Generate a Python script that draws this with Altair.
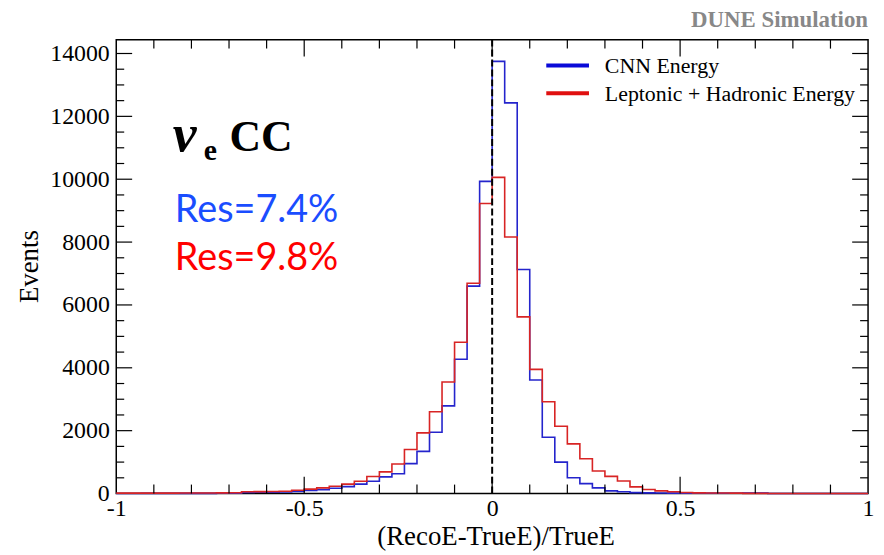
import altair as alt
import pandas as pd

# ---------------- data ----------------
series_names = ["CNN Energy", "Leptonic + Hadronic Energy"]
edges = [round(-1 + i / 30, 6) for i in range(61)]  # 60 bins of width 1/30 on [-1, 1]

cnn = [3, 3, 4, 4, 5, 5, 6, 6, 8, 10,
       35, 40, 45, 50, 65,
       95, 125, 170, 220, 300,
       390, 530, 630, 950, 1340,
       1950, 2790, 4270, 6600, 9930,
       13750, 12430, 7130, 3610, 1790,
       1000, 500, 316, 180, 85,
       55, 30, 22, 15, 12,
       10, 10, 9, 9, 8,
       15, 15, 0, 0, 0,
       0, 0, 0, 0, 0]
lh = [12, 12, 12, 14, 14, 15, 16, 18, 20, 25,
      55, 60, 65, 75, 105,
      140, 180, 230, 300, 390,
      540, 690, 940, 1400, 1930,
      2600, 3550, 4815, 6690, 9230,
      10060, 8160, 5620, 3950, 2920,
      2140, 1580, 1105, 717, 547,
      400, 212, 127, 85, 55,
      32, 20, 18, 15, 14,
      6, 5, 3, 2, 0,
      0, 0, 0, 0, 0]

x_ticks_major = [-0.5, 0, 0.5]
x_ticks_minor = [-0.9, -0.8, -0.7, -0.6, -0.4, -0.3, -0.2, -0.1,
                 0.1, 0.2, 0.3, 0.4, 0.6, 0.7, 0.8, 0.9]
x_labels = [-1, -0.5, 0, 0.5, 1]
y_ticks_major = [2000, 4000, 6000, 8000, 10000, 12000, 14000]
y_ticks_minor = [500, 1000, 1500, 2500, 3000, 3500, 4500, 5000, 5500, 6500, 7000, 7500,
                 8500, 9000, 9500, 10500, 11000, 11500, 12500, 13000, 13500]
y_labels = [0, 2000, 4000, 6000, 8000, 10000, 12000, 14000]

colors = ["#2424cc", "#d82424"]
legend_colors = ["#0a0ad8", "#e01010"]
W, H = 757, 457
SERIF = "Liberation Serif"

rows = []
for name, vals in zip(series_names, (cnn, lh)):
    for i, v in enumerate(vals):
        rows.append({"x": edges[i], "y": v, "s": name})
    rows.append({"x": edges[-1], "y": vals[-1], "s": name})
df = pd.DataFrame(rows)

x_scale = alt.Scale(domain=[-1, 1], nice=False, zero=False)
y_scale = alt.Scale(domain=[0, 14440], nice=False)

x_axis = alt.Axis(values=x_labels, ticks=False, domain=False, grid=False,
                  labelPadding=3, labelFlush=False,
                  labelExpr="datum.value < 0 ? '-' + format(-datum.value, '~g') : format(datum.value, '~g')",
                  title="(RecoE-TrueE)/TrueE", titleX=382, titleY=51,
                  titleBaseline="alphabetic", titleAlign="center")
y_axis = alt.Axis(values=y_labels, ticks=False, domain=False, grid=False,
                  format="d", labelPadding=7, labelFlush=False,
                  title="Events", titleX=-79, titleY=228, titleAngle=270,
                  titleBaseline="alphabetic", titleAlign="center")

lines = alt.Chart(df).mark_line(interpolate="step-after", strokeWidth=1.6).encode(
    x=alt.X("x:Q", scale=x_scale, axis=x_axis),
    y=alt.Y("y:Q", scale=y_scale, axis=y_axis),
    color=alt.Color("s:N", scale=alt.Scale(domain=series_names, range=colors), legend=None),
)


def xtick_layer(vals, length, top):
    base = alt.Chart(pd.DataFrame({"t": vals})).mark_rule(color="black", strokeWidth=1.2)
    if top:
        return base.encode(x=alt.X("t:Q", scale=x_scale, axis=x_axis),
                           y=alt.value(0), y2=alt.value(length))
    return base.encode(x=alt.X("t:Q", scale=x_scale, axis=x_axis),
                       y=alt.value(H), y2=alt.value(H - length))


def ytick_layer(vals, length, right):
    base = alt.Chart(pd.DataFrame({"t": vals})).mark_rule(color="black", strokeWidth=1.2)
    if right:
        return base.encode(y=alt.Y("t:Q", scale=y_scale, axis=y_axis),
                           x=alt.value(W), x2=alt.value(W - length))
    return base.encode(y=alt.Y("t:Q", scale=y_scale, axis=y_axis),
                       x=alt.value(0), x2=alt.value(length))


ticks = [
    xtick_layer(x_ticks_major, 17, False), xtick_layer(x_ticks_minor, 9, False),
    xtick_layer(x_ticks_major, 17, True), xtick_layer(x_ticks_minor, 9, True),
    ytick_layer(y_ticks_major, 16, False), ytick_layer(y_ticks_minor, 8, False),
    ytick_layer(y_ticks_major, 16, True), ytick_layer(y_ticks_minor, 8, True),
]

zero_line = alt.Chart(pd.DataFrame({"x": [0]})).mark_rule(
    color="black", strokeWidth=2, strokeDash=[7, 3]).encode(
    x=alt.X("x:Q", scale=x_scale, axis=x_axis))


def label(text, x, y, **kw):
    return alt.Chart(pd.DataFrame({"t": [text]})).mark_text(**kw).encode(
        x=alt.value(x), y=alt.value(y), text="t:N")


# legend (drawn as key lines + labels)
legend_layers = []
for k, (name, col) in enumerate(zip(series_names, legend_colors)):
    yy = 26 + 28 * k
    legend_layers.append(
        alt.Chart(pd.DataFrame({"s": [name]})).mark_rule(color=col, strokeWidth=4).encode(
            x=alt.value(433), x2=alt.value(476), y=alt.value(yy)))
    legend_layers.append(
        label(name, 492, yy + 1, font=SERIF, fontSize=22, color="black",
              align="left", baseline="middle"))

texts = [
    label("DUNE Simulation", 757, -13, font=SERIF, fontSize=23, fontWeight="bold",
          color="#888888", align="right", baseline="alphabetic"),
    label("ν", 57, 112, font=SERIF, fontSize=54, fontWeight="bold", fontStyle="italic",
          color="black", align="left", baseline="alphabetic"),
    label("e", 88, 121, font=SERIF, fontSize=30, fontWeight="bold",
          color="black", align="left", baseline="alphabetic"),
    label("CC", 114, 112, font=SERIF, fontSize=44, fontWeight="bold",
          color="black", align="left", baseline="alphabetic"),
    label("Res=7.4%", 59, 184, font="Lato", fontSize=38, color="#1a4dff",
          align="left", baseline="alphabetic"),
    label("Res=9.8%", 59, 232, font="Lato", fontSize=38, color="#ff0000",
          align="left", baseline="alphabetic"),
]

chart = alt.layer(lines, zero_line, *ticks, *legend_layers, *texts).properties(
    width=W, height=H,
    padding={"left": 109, "top": 30, "right": 8, "bottom": 58},
    autosize=alt.AutoSizeParams(type="none"),
    background="white",
).configure_view(stroke="black", strokeWidth=1.5).configure_axis(
    labelFont=SERIF, labelFontSize=24, labelColor="black",
    titleFont=SERIF, titleFontSize=27, titleFontWeight="normal", titleColor="black",
)

chart.save("out.html", embed_options={"renderer": "svg", "actions": False})
